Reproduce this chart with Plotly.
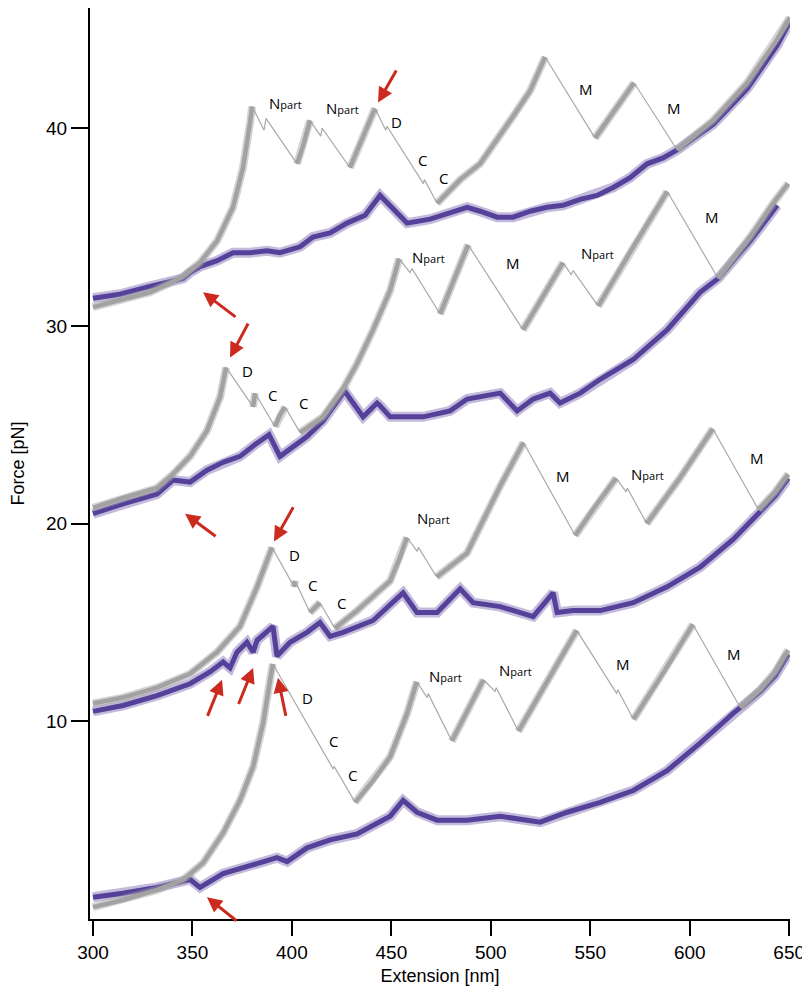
import plotly.graph_objects as go

# ---------------- data ----------------
# Each trace: stretching curve (gray) split into rising parts and rupture drops,
# relaxation curve (purple).

# Trace 1 (top)
c1_rise_x = [[300, 313.6, 328.7, 337.2, 345.3, 353.8, 362.4, 370.4, 375.4, 379.0, 380.0],
             [402.6, 405.6, 409.1],
             [429.2, 435.3, 441.8],
             [473.0, 484.6, 494.6, 503.2, 511.2, 519.8, 527.3],
             [552.4, 562.0, 572.0],
             [593.7, 611.8, 628.9, 644.0, 650.4]]
c1_rise_y = [[30.95, 31.3, 31.7, 32.1, 32.5, 33.2, 34.3, 36.0, 38.0, 40.3, 41.1],
             [38.2, 39.1, 40.4],
             [38.0, 39.4, 41.0],
             [36.2, 37.4, 38.2, 39.4, 40.6, 41.9, 43.6],
             [39.5, 40.9, 42.3],
             [38.9, 40.4, 42.3, 44.5, 45.6]]
c1_drop_x = [[380.0, 386.0, 387.0, 402.6],
             [409.1, 414.5, 415.2, 429.2],
             [441.8, 447.2, 447.8, 466.1, 466.6, 473.0],
             [527.3, 552.4],
             [572.0, 593.7]]
c1_drop_y = [[41.1, 39.9, 40.5, 38.2],
             [40.4, 39.6, 40.0, 38.0],
             [41.0, 39.9, 40.1, 37.2, 37.4, 36.2],
             [43.6, 39.5],
             [42.3, 38.9]]
c1_relax_x = [300, 313.6, 328.7, 345.3, 348.8, 353.8, 362.4, 370.4, 379.0, 387.5, 394.0, 404.1,
              410.6, 419.2, 427.7, 436.8, 444.3, 449.4, 457.9, 469.5, 479.5, 488.1, 494.6, 503.2,
              511.2, 519.8, 528.3, 536.3, 544.9, 553.4, 561.5, 570.0, 578.6, 586.6, 593.7, 611.8,
              628.9, 644.0, 650.4]
c1_relax_y = [31.4, 31.6, 32.0, 32.4, 32.7, 33.0, 33.3, 33.7, 33.7, 33.8, 33.7, 34.0,
              34.5, 34.7, 35.2, 35.6, 36.6, 36.1, 35.2, 35.4, 35.7, 36.0, 35.8, 35.5,
              35.5, 35.8, 36.0, 36.1, 36.4, 36.6, 37.0, 37.5, 38.2, 38.5, 38.9, 40.2,
              42.0, 44.2, 45.4]

# Trace 2
c2_rise_x = [[300, 315.1, 332.2, 340.2, 348.8, 357.3, 363.9, 366.9],
             [380.5, 381.5],
             [391.5, 394.0, 396.6],
             [404.1, 415.7, 425.7, 432.8, 440.8, 449.4, 453.9],
             [474.5, 481.5, 488.6],
             [516.2, 526.0, 536.3],
             [554.0, 571.0, 588.7],
             [614.3, 630.4, 641.9, 649.5]]
c2_rise_y = [[20.8, 21.3, 21.8, 22.5, 23.4, 24.7, 26.4, 27.9],
             [25.9, 26.6],
             [24.9, 25.5, 25.9],
             [24.6, 25.4, 26.8, 28.1, 29.8, 31.8, 33.4],
             [30.6, 32.3, 34.1],
             [29.8, 31.5, 33.2],
             [31.0, 33.9, 36.8],
             [32.4, 34.5, 36.2, 37.2]]
c2_drop_x = [[366.9, 380.5], [381.5, 391.5], [396.6, 404.1],
             [453.9, 459.4, 460.4, 474.5], [488.6, 516.2],
             [536.3, 540.4, 541.4, 554.0], [588.7, 614.3]]
c2_drop_y = [[27.9, 25.9], [26.6, 24.9], [25.9, 24.6],
             [33.4, 32.7, 32.9, 30.6], [34.1, 29.8],
             [33.2, 32.6, 32.8, 31.0], [36.8, 32.4]]
c2_relax_x = [300, 315.1, 332.2, 340.2, 348.8, 357.3, 365.4, 373.9, 381.5, 387.5, 388.5, 394.0,
              400.6, 407.6, 415.7, 425.7, 426.5, 435.8, 442.8, 444.0, 449.4, 466.0, 479.5, 488.1,
              504.7, 513.2, 521.3, 529.8, 534.8, 544.9, 555.0, 571.6, 588.6, 605.2, 614.3, 630.4,
              644.0]
c2_relax_y = [20.5, 21.0, 21.5, 22.2, 22.1, 22.7, 23.1, 23.4, 24.0, 24.4, 24.5, 23.4,
              23.9, 24.4, 25.2, 26.6, 26.7, 25.4, 26.1, 26.0, 25.4, 25.4, 25.7, 26.3,
              26.6, 25.7, 26.3, 26.6, 26.1, 26.6, 27.3, 28.3, 29.8, 31.7, 32.4, 34.3,
              36.1]

# Trace 3
c3_rise_x = [[300, 315.1, 332.2, 348.8, 362.4, 373.9, 382.5, 387.5, 390.0],
             [401.1, 401.6],
             [409.1, 414.1],
             [421.6, 432.8, 449.4, 454.0, 457.8],
             [472.8, 488.0, 504.7, 516.4],
             [542.4, 552.0, 563.0],
             [578.4, 595.0, 611.6],
             [634.6, 643.0, 649.5]]
c3_rise_y = [[10.9, 11.2, 11.7, 12.4, 13.5, 14.8, 16.8, 18.2, 18.8],
             [16.8, 17.1],
             [15.5, 16.0],
             [14.7, 15.6, 17.1, 18.2, 19.3],
             [17.3, 18.5, 21.9, 24.1],
             [19.4, 20.8, 22.3],
             [20.0, 22.3, 24.8],
             [20.7, 21.6, 22.5]]
c3_drop_x = [[390.0, 401.1], [401.6, 409.1], [414.1, 421.6],
             [457.8, 463.0, 463.6, 472.8], [516.4, 542.4],
             [563.0, 568.0, 568.6, 578.4], [611.6, 634.6]]
c3_drop_y = [[18.8, 16.8], [17.1, 15.5], [16.0, 14.7],
             [19.3, 18.6, 18.8, 17.3], [24.1, 19.4],
             [22.3, 21.6, 21.8, 20.0], [24.8, 20.7]]
c3_relax_x = [300, 315.1, 332.2, 348.8, 358.8, 365.4, 368.9, 372.4, 377.4, 380.5, 382.5, 390.5,
              392.5, 399.1, 407.6, 414.1, 419.2, 425.7, 440.8, 455.9, 462.9, 473.0, 484.6, 491.1,
              504.7, 521.3, 531.3, 533.3, 541.4, 555.0, 571.6, 588.6, 605.2, 621.8, 634.4, 643.0,
              649.5]
c3_relax_y = [10.5, 10.8, 11.3, 11.9, 12.5, 13.0, 12.7, 13.5, 14.0, 13.5, 14.1, 14.8,
              13.3, 14.0, 14.5, 15.0, 14.3, 14.5, 15.1, 16.5, 15.5, 15.5, 16.7, 16.0,
              15.8, 15.3, 16.5, 15.5, 15.6, 15.6, 16.0, 16.8, 17.8, 19.2, 20.5, 21.4,
              22.3]

# Trace 4 (bottom)
c4_rise_x = [[300, 315.1, 332.2, 345.3, 355.3, 365.4, 373.9, 380.5, 385.5, 389.0, 390.4],
             [431.8, 440.8, 449.4, 457.9, 462.8],
             [480.4, 488.0, 496.3],
             [513.9, 528.0, 543.2],
             [571.7, 587.0, 601.6],
             [625.4, 635.4, 643.0, 649.5]]
c4_rise_y = [[0.6, 0.96, 1.47, 1.98, 2.83, 4.35, 6.0, 7.7, 9.9, 12.1, 12.9],
             [5.9, 7.0, 8.2, 10.4, 12.0],
             [9.0, 10.5, 12.1],
             [9.5, 12.0, 14.6],
             [10.1, 12.5, 14.9],
             [10.7, 11.6, 12.5, 13.6]]
c4_drop_x = [[390.4, 420.7, 421.3, 431.8], [462.8, 468.0, 468.5, 480.4],
             [496.3, 502.2, 502.7, 513.9], [543.2, 563.3, 563.8, 571.7], [601.6, 625.4]]
c4_drop_y = [[12.9, 7.6, 7.7, 5.9], [12.0, 11.2, 11.4, 9.0],
             [12.1, 11.5, 11.7, 9.5], [14.6, 11.4, 11.6, 10.1], [14.9, 10.7]]
c4_relax_x = [300, 315.1, 332.2, 348.8, 353.8, 365.4, 382.5, 392.5, 397.6, 407.6, 419.2, 432.8,
              449.4, 455.9, 462.9, 473.0, 488.1, 504.7, 524.8, 538.4, 555.0, 571.6, 588.6, 605.2,
              621.8, 625.4, 635.4, 643.0, 649.5]
c4_relax_y = [1.1, 1.3, 1.6, 2.0, 1.6, 2.3, 2.8, 3.1, 2.9, 3.6, 4.0, 4.3,
              5.2, 6.0, 5.4, 5.0, 5.0, 5.2, 4.9, 5.4, 5.9, 6.5, 7.5, 8.9,
              10.4, 10.7, 11.5, 12.3, 13.4]

# Event labels: text, x, y
label_text = ["Npart", "Npart", "D", "C", "C", "M", "M",
              "D", "C", "C", "Npart", "M", "Npart", "M",
              "D", "C", "C", "Npart", "M", "Npart", "M",
              "D", "C", "C", "Npart", "Npart", "M", "M"]
label_x = [396.6, 425.2, 452.4, 465.4, 476.0, 547.9, 592.2,
           377.9, 390.0, 405.6, 468.5, 511.2, 553.4, 611.3,
           401.1, 410.6, 424.7, 471.0, 536.3, 578.6, 633.9,
           407.6, 420.7, 430.7, 477.0, 512.2, 566.5, 622.3]
label_y = [41.3, 41.0, 40.3, 38.4, 37.5, 42.0, 41.0,
           27.7, 26.5, 26.1, 33.5, 33.2, 33.7, 35.5,
           18.4, 16.9, 16.0, 20.3, 22.4, 22.5, 23.3,
           11.2, 9.0, 7.3, 12.3, 12.6, 12.9, 13.4]

# Red arrows: head (x, y) and tail (x, y)
arrow_head_x = [355.3, 443.3, 368.9, 346.3, 391.0, 364.9, 380.5, 393.0, 357.3]
arrow_head_y = [31.7, 41.3, 28.4, 20.5, 19.1, 12.1, 12.7, 12.2, 1.1]
arrow_tail_x = [372.4, 452.9, 378.4, 362.4, 401.1, 357.3, 372.9, 397.1, 372.9]
arrow_tail_y = [30.4, 43.0, 30.2, 19.3, 20.9, 10.2, 10.8, 10.2, -0.15]

x_ticks = [300, 350, 400, 450, 500, 550, 600, 650]
y_ticks = [10, 20, 30, 40]

# ---------------- styling ----------------
GRAY = "#a2a2a2"
THIN_GRAY = "#a9a9a9"
PURPLE = "#55409a"
RED = "#cc2a1e"


def join(segs):
    out = []
    for i, s in enumerate(segs):
        if i:
            out.append(None)
        out.extend(s)
    return out


fig = go.Figure()

curves = [
    (c1_rise_x, c1_rise_y, c1_drop_x, c1_drop_y, c1_relax_x, c1_relax_y),
    (c2_rise_x, c2_rise_y, c2_drop_x, c2_drop_y, c2_relax_x, c2_relax_y),
    (c3_rise_x, c3_rise_y, c3_drop_x, c3_drop_y, c3_relax_x, c3_relax_y),
    (c4_rise_x, c4_rise_y, c4_drop_x, c4_drop_y, c4_relax_x, c4_relax_y),
]

for rx, ry, dx, dy, px, py in curves:
    # faint halo to suggest the noise band of the recorded trace
    fig.add_trace(go.Scatter(x=px, y=py, mode="lines", opacity=0.35,
                             line=dict(color=PURPLE, width=10), showlegend=False,
                             hoverinfo="skip"))
    fig.add_trace(go.Scatter(x=px, y=py, mode="lines",
                             line=dict(color=PURPLE, width=5), showlegend=False,
                             hoverinfo="skip"))
    fig.add_trace(go.Scatter(x=join(dx), y=join(dy), mode="lines",
                             line=dict(color=THIN_GRAY, width=1.2), showlegend=False,
                             hoverinfo="skip", connectgaps=False))
    fig.add_trace(go.Scatter(x=join(rx), y=join(ry), mode="lines", opacity=0.45,
                             line=dict(color=GRAY, width=8), showlegend=False,
                             hoverinfo="skip", connectgaps=False))
    fig.add_trace(go.Scatter(x=join(rx), y=join(ry), mode="lines",
                             line=dict(color=GRAY, width=4.5), showlegend=False,
                             hoverinfo="skip", connectgaps=False))

annotations = []
for t, x, y in zip(label_text, label_x, label_y):
    if t == "Npart":
        txt = "N<span style='font-size:11px'>part</span>"
    else:
        txt = t
    annotations.append(dict(x=x, y=y, xref="x", yref="y", text=txt, showarrow=False,
                            xanchor="center", yanchor="middle",
                            font=dict(family="Open Sans", size=15, color="black")))

for hx, hy, tx, ty in zip(arrow_head_x, arrow_head_y, arrow_tail_x, arrow_tail_y):
    annotations.append(dict(x=hx, y=hy, ax=tx, ay=ty, xref="x", yref="y",
                            axref="x", ayref="y", text="", showarrow=True,
                            arrowhead=2, arrowsize=1.0, arrowwidth=3, arrowcolor=RED,
                            standoff=0, startstandoff=0))

# The page adds an 8px body margin; the figure is sized/positioned to compensate.
fig.update_layout(
    width=802, height=990,
    margin=dict(l=82, r=20, t=0, b=79),
    paper_bgcolor="white", plot_bgcolor="white",
    font=dict(family="Liberation Sans, Arial, sans-serif", color="black"),
    annotations=annotations,
    showlegend=False,
)
fig.update_xaxes(range=[298.5, 650.4], tickvals=x_ticks, ticktext=[str(v) for v in x_ticks],
                 showline=True, linecolor="black", linewidth=2, ticks="outside",
                 ticklen=15, tickwidth=2, tickcolor="black", showgrid=False, zeroline=False,
                 automargin=False,
                 tickfont=dict(size=19), title=dict(text="Extension [nm]", font=dict(size=18),
                                                     standoff=8))
fig.update_yaxes(range=[0, 46.08], tickvals=y_ticks, ticktext=[str(v) for v in y_ticks],
                 showline=True, linecolor="black", linewidth=2, ticks="outside",
                 ticklen=17, tickwidth=2, tickcolor="black", showgrid=False, zeroline=False,
                 automargin=False,
                 tickfont=dict(size=19), title=dict(text="Force [pN]", font=dict(size=18),
                                                     standoff=20))

fig.write_html("out.html")
